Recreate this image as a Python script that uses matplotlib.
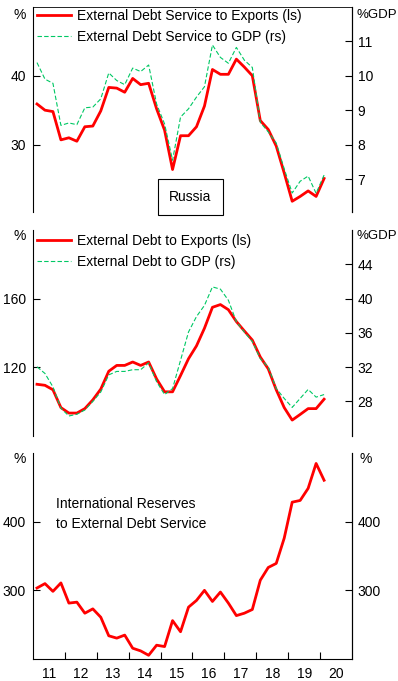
import matplotlib
matplotlib.use("Agg")
import matplotlib.pyplot as plt
import numpy as np

plt.rcParams["font.family"] = ["Liberation Sans", "DejaVu Sans"]
plt.rcParams["font.size"] = 10

# quarterly, Q1 2011 .. Q1 2020
quarters = 2011.125 + 0.25 * np.arange(37)
year_ticks = list(range(2012, 2021))
year_labels = ["11", "12", "13", "14", "15", "16", "17", "18", "19", "20"]

debt_service_exports = [
    35.9, 35.0, 34.8, 30.7, 31.0, 30.5, 32.6, 32.7, 34.9, 38.3,
    38.2, 37.6, 39.6, 38.7, 38.9, 35.2, 32.1, 26.4, 31.3, 31.3,
    32.6, 35.6, 40.9, 40.2, 40.2, 42.4, 41.25, 40.0, 33.5, 32.2,
    29.8, 25.9, 21.8, 22.5, 23.3, 22.5, 25.1,
]
debt_service_gdp = [
    10.38, 9.9, 9.78, 8.56, 8.63, 8.58, 9.07, 9.09, 9.33, 10.08,
    9.86, 9.74, 10.22, 10.12, 10.31, 9.18, 8.6, 7.55, 8.8, 9.04,
    9.38, 9.68, 10.89, 10.53, 10.36, 10.82, 10.45, 10.24, 8.65, 8.37,
    8.05, 7.3, 6.6, 6.94, 7.09, 6.59, 7.12,
]
debt_exports = [
    110.0, 109.4, 106.8, 96.4, 93.2, 93.2, 95.8, 100.9, 107.2, 117.6,
    121.0, 121.0, 123.0, 121.0, 123.0, 113.1, 105.6, 105.6, 115.1, 124.9,
    132.4, 142.7, 154.9, 156.5, 153.5, 146.6, 141.1, 135.8, 125.9, 119.0,
    106.8, 96.4, 89.1, 92.4, 95.8, 95.8, 101.3,
]
debt_gdp = [
    32.04, 31.26, 29.7, 27.2, 26.3, 26.5, 27.0, 28.0, 29.1, 31.1,
    31.5, 31.5, 31.7, 31.7, 32.5, 30.3, 28.8, 29.5, 32.8, 36.1,
    37.9, 39.2, 41.36, 41.1, 39.8, 37.3, 36.1, 35.0, 33.0, 32.0,
    29.5, 28.35, 27.3, 28.35, 29.4, 28.5, 28.8,
]
reserves_to_service = [
    303.4, 309.8, 298.5, 310.8, 281.4, 282.8, 266.7, 273.0, 260.8, 233.8,
    230.4, 234.8, 215.7, 211.8, 205.4, 220.1, 218.1, 255.9, 239.7, 275.5,
    285.3, 300.0, 283.8, 297.5, 281.4, 263.2, 266.7, 272.1, 314.7, 333.3,
    339.2, 376.0, 428.4, 430.9, 448.5, 484.8, 460.3,
]

RED = "#ff0000"
GREEN = "#00c864"

fig = plt.figure(figsize=(3.98, 6.81), dpi=100)
L, W = 33 / 398, 319 / 398


def frame(ax, bottom_spine):
    ax.spines["top"].set_visible(False)
    ax.spines["bottom"].set_visible(bottom_spine)
    ax.set_xlim(2011, 2021)
    ax.tick_params(axis="y", direction="in", length=5, pad=5)
    ax.set_facecolor("none")


def twin(ax, lo, hi, ticks):
    ax2 = ax.twinx()
    ax2.set_ylim(lo, hi)
    ax2.set_yticks(ticks)
    ax2.tick_params(axis="y", direction="in", length=5, pad=4)
    ax2.spines["top"].set_visible(False)
    ax2.spines["bottom"].set_visible(False)
    ax2.spines["left"].set_visible(False)
    return ax2


def add_legend(ax, handles, labels, top=1.0):
    ax.legend(handles, labels, loc="upper left", bbox_to_anchor=(0.0, top),
              frameon=False, handlelength=2.4, handletextpad=0.45,
              labelspacing=0.5, borderaxespad=0.0, borderpad=0.3)


# panel 1
ax1 = fig.add_axes([L, 1 - 212.3 / 681, W, 205.6 / 681])
frame(ax1, False)
ax1.spines["top"].set_visible(True)
ax1.spines["top"].set_linewidth(0.6)
ax1.set_ylim(20.2, 50)
ax1.set_yticks([30, 40])
ax1.set_xticks([])
r1, = ax1.plot(quarters, debt_service_exports, color=RED, lw=2)
ax1b = twin(ax1, 6.04, 12, [7, 8, 9, 10, 11])
g1, = ax1b.plot(quarters, debt_service_gdp, color=GREEN, lw=0.8, dashes=(4, 2))
add_legend(ax1, [r1, g1], ["External Debt Service to Exports (ls)",
                           "External Debt Service to GDP (rs)"], top=1.008)
ax1.text(-0.022, 0.96, "%", transform=ax1.transAxes, ha="right", va="center")
fig.text(0.998, 1 - 15 / 681, "%GDP", ha="right", va="center", fontsize=9.5)
ax1.text(0.493, 0.075, "Russia", transform=ax1.transAxes, ha="center", va="center",
         bbox=dict(boxstyle="square,pad=0.8", fc="white", ec="black", lw=0.8))

# panel 2
ax2 = fig.add_axes([L, 1 - 435.7 / 681, W, 205.7 / 681])
frame(ax2, False)
ax2.set_ylim(80, 200)
ax2.set_yticks([120, 160])
ax2.set_xticks([])
r2, = ax2.plot(quarters, debt_exports, color=RED, lw=2)
ax2b = twin(ax2, 24, 48, [28, 32, 36, 40, 44])
g2, = ax2b.plot(quarters, debt_gdp, color=GREEN, lw=0.8, dashes=(4, 2))
add_legend(ax2, [r2, g2], ["External Debt to Exports (ls)",
                           "External Debt to GDP (rs)"])
ax2.text(-0.022, 0.97, "%", transform=ax2.transAxes, ha="right", va="center")
fig.text(0.998, 1 - 236 / 681, "%GDP", ha="right", va="center", fontsize=9.5)

# panel 3
ax3 = fig.add_axes([L, 1 - 659 / 681, W, 206 / 681])
frame(ax3, True)
ax3.set_ylim(200, 500)
ax3.set_yticks([300, 400])
ax3.plot(quarters, reserves_to_service, color=RED, lw=2)
ax3b = twin(ax3, 200, 500, [300, 400])
ax3.set_xticks(year_ticks)
ax3.set_xticklabels([])
ax3.set_xticks([y + 0.5 for y in range(2011, 2021)], minor=True)
ax3.set_xticklabels(year_labels, minor=True)
ax3.tick_params(axis="x", which="major", direction="in", length=5)
ax3.tick_params(axis="x", which="minor", length=0, pad=6)
ax3.text(-0.022, 0.97, "%", transform=ax3.transAxes, ha="right", va="center")
ax3.text(1.025, 0.97, "%", transform=ax3.transAxes, ha="left", va="center")
ax3.text(0.073, 0.705, "International Reserves\nto External Debt Service",
         transform=ax3.transAxes, ha="left", va="center", linespacing=1.5)

fig.savefig("out.png", dpi=100)
